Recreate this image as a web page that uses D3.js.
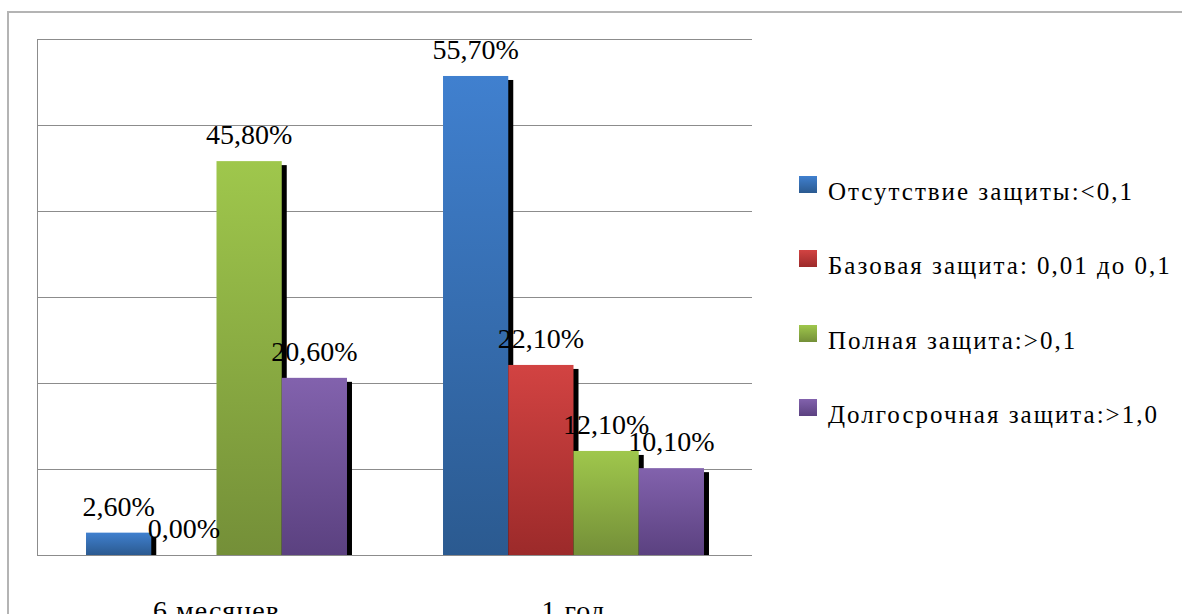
<!DOCTYPE html>
<html>
<head>
<meta charset="utf-8">
<script src="https://cdn.jsdelivr.net/npm/d3@7"></script>
<style>
  html, body { margin: 0; padding: 0; background: #fff; }
  svg { display: block; }
</style>
</head>
<body>
<svg id="chart" width="1182" height="614"></svg>
<script>
// Periods shown along the x axis
const categories = ["6 месяцев", "1 год"];
// Protection levels (series)
const seriesNames = [
  "Отсутствие защиты:<0,1",
  "Базовая защита: 0,01 до 0,1",
  "Полная защита:>0,1",
  "Долгосрочная защита:>1,0"
];
// Share of respondents, %, per series for each period
const noProtection   = [2.6, 55.7];
const baseProtection = [0.0, 22.1];
const fullProtection = [45.8, 12.1];
const longProtection = [20.6, 10.1];
const yTicks = [0, 10, 20, 30, 40, 50, 60];

const seriesValues = [noProtection, baseProtection, fullProtection, longProtection];
const colorsTop = ["#4080cf", "#d24342", "#9fc74c", "#8262ad"];
const colorsBottom = ["#2b5a90", "#9c2a2a", "#748f38", "#5b4180"];

const FONT = "Liberation Serif";

const svg = d3.select("#chart");
const plot = { left: 38, top: 39, right: 752, bottom: 555 };

const y = d3.scaleLinear().domain([0, 60]).range([plot.bottom, plot.top]);
const x0 = d3.scaleBand().domain(categories).range([plot.left, plot.right]).padding(0);
const x1 = d3.scaleBand().domain(d3.range(seriesNames.length))
  .range([0, x0.bandwidth()]).paddingInner(0).paddingOuter(0.736);

// Gradients for the bar fills
const defs = svg.append("defs");
seriesNames.forEach((s, i) => {
  const g = defs.append("linearGradient").attr("id", "grad" + i)
    .attr("x1", 0).attr("y1", 0).attr("x2", 0).attr("y2", 1);
  g.append("stop").attr("offset", "0%").attr("stop-color", colorsTop[i]);
  g.append("stop").attr("offset", "100%").attr("stop-color", colorsBottom[i]);
});

// Outer frame
svg.append("path")
  .attr("d", `M8,614 L8,12 L1182,12`)
  .attr("fill", "none").attr("stroke", "#b4b4b4").attr("stroke-width", 2);

// Horizontal gridlines
svg.append("g").selectAll("line").data(yTicks).join("line")
  .attr("x1", plot.left).attr("x2", plot.right)
  .attr("y1", d => Math.round(y(d)) + 0.5).attr("y2", d => Math.round(y(d)) + 0.5)
  .attr("stroke", "#8c8c8c").attr("stroke-width", 1);

// Plot-area left border
svg.append("line")
  .attr("x1", plot.left - 0.5).attr("x2", plot.left - 0.5)
  .attr("y1", plot.top).attr("y2", plot.bottom + 1)
  .attr("stroke", "#8c8c8c").attr("stroke-width", 1);

// Flatten data into bars
const bars = [];
categories.forEach((c, ci) => {
  seriesValues.forEach((vals, si) => {
    bars.push({ cat: c, si, v: vals[ci] });
  });
});

const shadowDx = 5, shadowDy = 4;

// Drop shadows first, so neighbouring bars cover them
svg.append("g").selectAll("rect").data(bars.filter(d => d.v > 0)).join("rect")
  .attr("x", d => x0(d.cat) + x1(d.si) + shadowDx)
  .attr("y", d => y(d.v) + shadowDy)
  .attr("width", x1.bandwidth())
  .attr("height", d => Math.max(0, y(0) - y(d.v) - shadowDy))
  .attr("fill", "#000");

// Bars
svg.append("g").selectAll("rect").data(bars.filter(d => d.v > 0)).join("rect")
  .attr("x", d => x0(d.cat) + x1(d.si))
  .attr("y", d => y(d.v))
  .attr("width", x1.bandwidth())
  .attr("height", d => y(0) - y(d.v))
  .attr("fill", d => `url(#grad${d.si})`);

// Value labels
svg.append("g").selectAll("text").data(bars).join("text")
  .attr("x", d => x0(d.cat) + x1(d.si) + x1.bandwidth() / 2)
  .attr("y", d => y(d.v) - 17)
  .attr("text-anchor", "middle")
  .attr("font-family", FONT)
  .attr("font-size", 28)
  .attr("fill", "#000")
  .text(d => d.v.toFixed(2).replace(".", ",") + "%");

// Category labels
svg.append("g").selectAll("text").data(categories).join("text")
  .attr("x", d => x0(d) + x0.bandwidth() / 2)
  .attr("y", 620)
  .attr("text-anchor", "middle")
  .attr("font-family", FONT)
  .attr("font-size", 28)
  .attr("letter-spacing", 1)
  .attr("fill", "#000")
  .text(d => d);

// Legend
const legend = svg.append("g").attr("transform", "translate(799,0)");
const rowY = [200, 274, 349, 423];
seriesNames.forEach((s, i) => {
  const g = legend.append("g").attr("transform", `translate(0,${rowY[i]})`);
  g.append("rect").attr("x", 0).attr("y", -24).attr("width", 18).attr("height", 17)
    .attr("fill", `url(#grad${i})`);
  g.append("text").attr("x", 29).attr("y", 0)
    .attr("font-family", FONT)
    .attr("font-size", 25)
    .attr("letter-spacing", 2)
    .attr("fill", "#000")
    .text(s);
});
</script>
</body>
</html>
